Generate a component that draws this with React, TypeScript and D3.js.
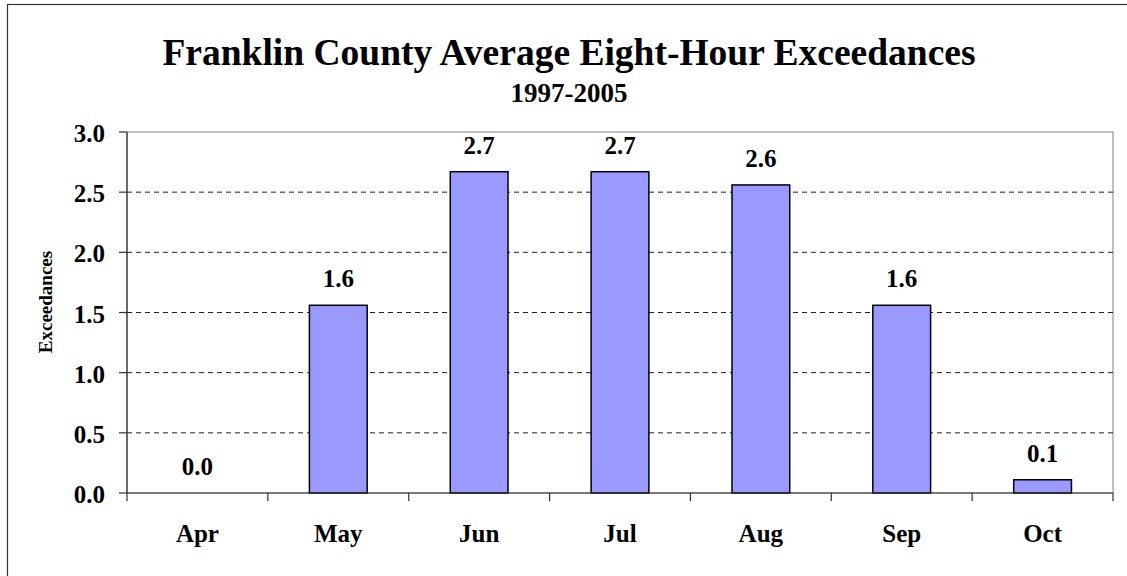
import React from "react";
import * as d3 from "d3";

const months = ["Apr", "May", "Jun", "Jul", "Aug", "Sep", "Oct"];
const exceedances = [0, 1.56, 2.67, 2.67, 2.56, 1.56, 0.11];
const yTicks = [0, 0.5, 1.0, 1.5, 2.0, 2.5, 3.0];

const W = 1127;
const H = 576;
const M = { left: 127, right: 1113, top: 132, bottom: 493 };
const FONT = "'Liberation Serif', 'Times New Roman', serif";

export default function App() {
  const x = d3.scaleBand<string>().domain(months).range([M.left, M.right]).paddingInner(0.59).paddingOuter(0.295);
  const xc = d3.scaleBand<string>().domain(months).range([M.left, M.right]);
  const y = d3.scaleLinear().domain([0, 3]).range([M.bottom, M.top]);

  return (
    <svg width={W} height={H} style={{ position: "absolute", left: 0, top: 0 }} fontFamily={FONT}>
      <rect x={0} y={0} width={W} height={H} fill="#fff" />
      <rect x={7.5} y={4.5} width={W + 20} height={H + 20} fill="none" stroke="#333" strokeWidth={1.2} />
      <text x={569} y={65} textAnchor="middle" fontSize={37.5} fontWeight="bold">
        Franklin County Average Eight-Hour Exceedances
      </text>
      <text x={569} y={102} textAnchor="middle" fontSize={27} fontWeight="bold">
        1997-2005
      </text>
      {/* plot border */}
      <rect x={M.left} y={M.top} width={M.right - M.left} height={M.bottom - M.top} fill="none" stroke="#808080" strokeWidth={1} />
      {/* gridlines */}
      {yTicks.filter((t) => t > 0 && t < 3).map((t) => (
        <line key={t} x1={M.left} x2={M.right} y1={y(t)} y2={y(t)} stroke="#222" strokeWidth={1} strokeDasharray="5,4" />
      ))}
      {/* bars */}
      {months.map((m, i) => (
        <rect key={m} x={x(m)} y={y(exceedances[i])} width={x.bandwidth()} height={M.bottom - y(exceedances[i])}
          fill="#9999FF" stroke="#000" strokeWidth={1.5} style={{ display: exceedances[i] > 0 ? undefined : "none" }} />
      ))}
      {/* value labels */}
      {months.map((m, i) => (
        <text key={m} x={(x(m) as number) + x.bandwidth() / 2} y={y(exceedances[i]) - 18} textAnchor="middle" fontSize={25} fontWeight="bold">
          {exceedances[i].toFixed(1)}
        </text>
      ))}
      {/* y axis */}
      <line x1={M.left} x2={M.left} y1={M.top} y2={M.bottom} stroke="#333" strokeWidth={1.2} />
      {yTicks.map((t) => (
        <g key={t}>
          <line x1={M.left - 8} x2={M.left} y1={y(t)} y2={y(t)} stroke="#333" strokeWidth={1.2} />
          <text x={105} y={y(t) + 10} textAnchor="end" fontSize={25} fontWeight="bold">{t.toFixed(1)}</text>
        </g>
      ))}
      {/* x axis */}
      <line x1={M.left} x2={M.right} y1={M.bottom} y2={M.bottom} stroke="#333" strokeWidth={1.2} />
      {[...months.map((m) => xc(m) as number), M.right].map((px, i) => (
        <line key={i} x1={px} x2={px} y1={M.bottom} y2={M.bottom + 8} stroke="#333" strokeWidth={1.2} />
      ))}
      {months.map((m) => (
        <text key={m} x={(xc(m) as number) + xc.bandwidth() / 2} y={542} textAnchor="middle" fontSize={25} fontWeight="bold">{m}</text>
      ))}
      <text transform={`translate(52, 302) rotate(-90)`} textAnchor="middle" fontSize={19} fontWeight="bold">
        Exceedances
      </text>
    </svg>
  );
}
